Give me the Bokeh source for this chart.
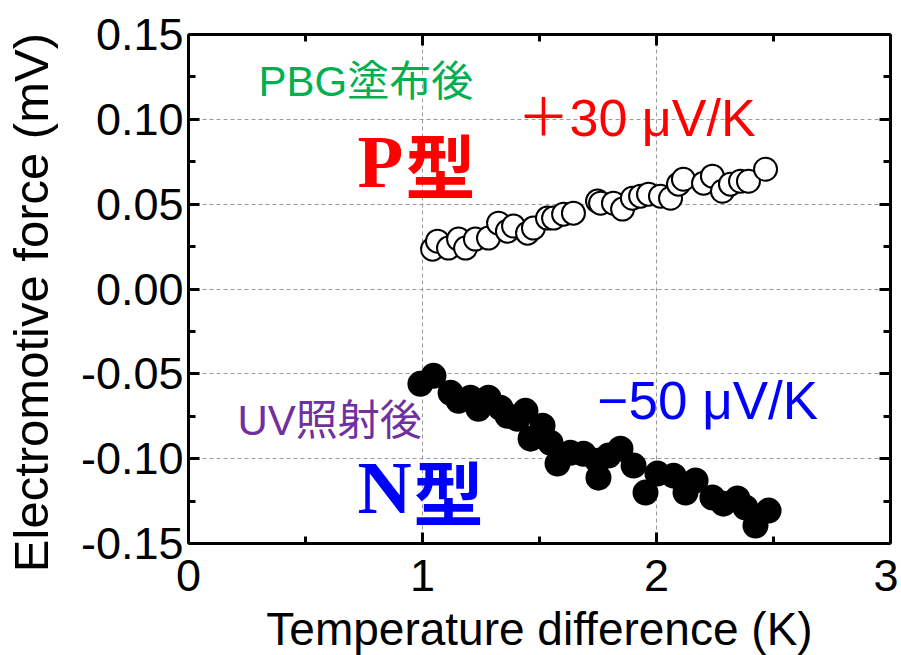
from bokeh.plotting import figure
from bokeh.models import LinearAxis, FixedTicker, Range1d, Label
from bokeh.embed import file_html
from bokeh.resources import INLINE

# P-type (after PBG coating), open circles
p_x = [1.043, 1.064, 1.111, 1.154, 1.184, 1.226, 1.282, 1.325, 1.363, 1.389,
       1.449, 1.474, 1.534, 1.560, 1.603, 1.645, 1.748, 1.761, 1.816, 1.855,
       1.897, 1.932, 1.966, 2.017, 2.060, 2.094, 2.115, 2.201, 2.239, 2.282,
       2.316, 2.359, 2.393, 2.466]
p_y = [0.0235, 0.0282, 0.0241, 0.0294, 0.0241, 0.0294, 0.0300, 0.0388, 0.0341, 0.0371,
       0.0329, 0.0359, 0.0418, 0.0418, 0.0441, 0.0447, 0.0518, 0.0506, 0.0506, 0.0471,
       0.0535, 0.0547, 0.0559, 0.0547, 0.0535, 0.0618, 0.0647, 0.0624, 0.0665, 0.0576,
       0.0618, 0.0635, 0.0635, 0.0706]

# N-type (after UV irradiation), filled circles
n_x = [0.991, 1.047, 1.120, 1.154, 1.205, 1.239, 1.282, 1.333, 1.363, 1.406,
       1.440, 1.462, 1.513, 1.547, 1.577, 1.632, 1.688, 1.748, 1.752, 1.795,
       1.846, 1.902, 1.953, 2.004, 2.073, 2.124, 2.167, 2.239, 2.286, 2.346,
       2.380, 2.423, 2.479]
n_y = [-0.0559, -0.0512, -0.0612, -0.0659, -0.0641, -0.0706, -0.0641, -0.0700, -0.0747, -0.0765,
       -0.0718, -0.0882, -0.0806, -0.0906, -0.1029, -0.0965, -0.0971, -0.1012, -0.1112, -0.0982,
       -0.0941, -0.1041, -0.1200, -0.1088, -0.1100, -0.1200, -0.1129, -0.1229, -0.1265, -0.1235,
       -0.1288, -0.1394, -0.1306]

x_ticks = [0, 1, 2, 3]
x_tick_labels = ["0", "1", "2", "3"]
y_ticks = [-0.15, -0.10, -0.05, 0.00, 0.05, 0.10, 0.15]
y_tick_labels = ["-0.15", "-0.10", "-0.05", "0.00", "0.05", "0.10", "0.15"]

FONT = "Liberation Sans"
FONT_MIX = "Liberation Sans, Noto Sans CJK JP"

p = figure(frame_width=702, frame_height=509,
           min_border_left=180, min_border_top=34, min_border_right=8, min_border_bottom=112,
           x_range=Range1d(0, 3), y_range=Range1d(-0.15, 0.15),
           output_backend="svg", toolbar_location=None, outline_line_color=None)

grid_ticks_x = [t for t in x_ticks if 0 < t < 3]
grid_ticks_y = [t for t in y_ticks if -0.15 < t < 0.15]
p.xgrid.ticker = FixedTicker(ticks=grid_ticks_x)
p.ygrid.ticker = FixedTicker(ticks=grid_ticks_y)
for g in (p.xgrid, p.ygrid):
    g.grid_line_color = "#9a9a9a"
    g.grid_line_dash = "4 3"
    g.grid_line_width = 1

def style_axis(ax, ticks, labels, show_labels):
    ax.ticker = FixedTicker(ticks=ticks,
                            minor_ticks=[(a + b) / 2 for a, b in zip(ticks[:-1], ticks[1:])])
    ax.axis_line_width = 3
    ax.axis_line_color = "black"
    ax.major_tick_line_width = 3
    ax.minor_tick_line_width = 3
    ax.major_tick_in = 11
    ax.major_tick_out = 0
    ax.minor_tick_in = 7
    ax.minor_tick_out = 0
    if show_labels:
        ax.major_label_overrides = {t: l for t, l in zip(ticks, labels)}
        ax.major_label_text_font = FONT
        ax.major_label_text_font_size = "45px"
        ax.major_label_text_color = "black"
        ax.axis_label_text_font = FONT
        ax.axis_label_text_font_style = "normal"
        ax.axis_label_text_color = "black"
    else:
        ax.major_label_overrides = {t: "" for t in ticks}
        ax.major_label_text_font_size = "10px"
        ax.major_label_standoff = 0

style_axis(p.xaxis[0], x_ticks, x_tick_labels, True)
style_axis(p.yaxis[0], y_ticks, y_tick_labels, True)
p.xaxis.axis_label = "Temperature difference (K)"
p.yaxis.axis_label = "Electromotive force (mV)\u00a0\u00a0"
p.xaxis.axis_label_text_font_size = "46px"
p.yaxis.axis_label_text_font_size = "49px"
p.xaxis.major_label_standoff = 16
p.yaxis.major_label_standoff = 5
p.xaxis.axis_label_standoff = 9
p.yaxis.axis_label_standoff = 20

top = LinearAxis()
right = LinearAxis()
style_axis(top, x_ticks, x_tick_labels, False)
style_axis(right, y_ticks, y_tick_labels, False)
p.add_layout(top, "above")
p.add_layout(right, "right")

p.scatter(n_x, n_y, size=24, fill_color="black", line_color="black", line_width=2)
p.scatter(p_x, p_y, size=23, fill_color="white", line_color="black", line_width=2)

def lab(x, y, text, color, size, font=FONT_MIX, style="normal"):
    p.add_layout(Label(x=x, y=y, text=text, text_color=color, text_font=font,
                       text_font_size=size, text_font_style=style,
                       text_align="left", text_baseline="alphabetic"))

lab(0.299, 0.1223, "PBG塗布後", "#00B050", "42px")
lab(0.722, 0.0752, "P", "#FF0000", "75px", font="Liberation Serif", style="bold")
lab(0.927, 0.0740, "型", "#FF0000", "70px", font="Noto Sans CJK JP", style="bold")
lab(1.406, 0.1005, "＋30 μV/K", "#FF0000", "52px")
lab(0.209, -0.0777, "UV照射後", "#7030A0", "42px")
lab(0.722, -0.1171, "N", "#0000FF", "75px", font="Liberation Serif", style="bold")
lab(0.962, -0.1185, "型", "#0000FF", "70px", font="Noto Sans CJK JP", style="bold")
lab(1.748, -0.0660, "−50 μV/K", "#0000FF", "53px")

open("out.html", "w").write(file_html(p, INLINE))
